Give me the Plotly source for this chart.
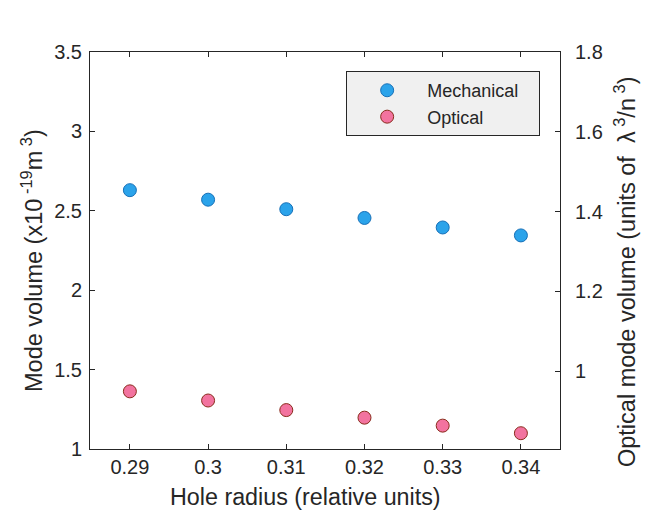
import plotly.graph_objects as go

hole_radius = [0.29, 0.30, 0.31, 0.32, 0.33, 0.34]
mechanical = [2.63, 2.57, 2.51, 2.455, 2.395, 2.345]
optical = [0.949, 0.926, 0.902, 0.883, 0.863, 0.844]

x_ticks = [0.29, 0.30, 0.31, 0.32, 0.33, 0.34]
x_tick_labels = ["0.29", "0.3", "0.31", "0.32", "0.33", "0.34"]
left_ticks = [1, 1.5, 2, 2.5, 3, 3.5]
left_tick_labels = ["1", "1.5", "2", "2.5", "3", "3.5"]
right_ticks = [1, 1.2, 1.4, 1.6, 1.8]
right_tick_labels = ["1", "1.2", "1.4", "1.6", "1.8"]

x_title = "Hole radius (relative units)"
y_title = "Mode volume (x10<sup> -19</sup>m<sup> 3</sup>)"
y2_title = "Optical mode volume (units of  \u03bb<sup> 3</sup>/n<sup> 3</sup>)"

FONT = "Liberation Sans, Arial, Helvetica, sans-serif"
AX = "#262626"
NB = "\u00a0"

fig = go.Figure()
fig.add_trace(go.Scatter(
    x=hole_radius, y=mechanical, mode="markers", name="Mechanical" + NB * 3,
    marker=dict(size=13, color="#2ba3ea", line=dict(color="#1670b8", width=1)),
    yaxis="y"))
fig.add_trace(go.Scatter(
    x=hole_radius, y=optical, mode="markers", name="Optical",
    marker=dict(size=13, color="#f2739f", line=dict(color="#8a2c1c", width=1)),
    yaxis="y2"))

fig.update_layout(
    width=650, height=532,
    margin=dict(l=90, r=90, t=52, b=83),
    paper_bgcolor="white", plot_bgcolor="white",
    font=dict(family=FONT, size=20, color="#262626"),
    showlegend=True,
    legend=dict(x=0.545, y=0.952, xanchor="left", yanchor="top",
                bgcolor="#f0f0f0", bordercolor="#262626", borderwidth=1,
                font=dict(size=18, color="#262626"),
                itemwidth=70, tracegroupgap=0),
    xaxis=dict(range=[0.2849, 0.345], tickvals=x_ticks, ticktext=x_tick_labels,
               ticks="inside", ticklen=5, tickcolor=AX, showline=True,
               linecolor=AX, linewidth=1, mirror="ticks", showgrid=False,
               zeroline=False, tickfont=dict(size=20)),
    yaxis=dict(range=[1, 3.5], tickvals=left_ticks, ticktext=left_tick_labels,
               ticks="inside", ticklen=5, tickcolor=AX, showline=True,
               linecolor=AX, linewidth=1, showgrid=False, zeroline=False,
               tickfont=dict(size=20), ticklabelstandoff=3),
    yaxis2=dict(range=[0.8044, 1.8], tickvals=right_ticks, ticktext=right_tick_labels,
                overlaying="y", side="right",
                ticks="inside", ticklen=5, tickcolor=AX, showline=True,
                linecolor=AX, linewidth=1, showgrid=False, zeroline=False,
                tickfont=dict(size=20), ticklabelstandoff=10),
    annotations=[
        dict(text=x_title, xref="paper", yref="paper", x=0.4585, y=-0.1209,
             xanchor="center", yanchor="middle", showarrow=False,
             font=dict(size=23.3, color="#262626")),
        dict(text=y_title, xref="paper", yref="paper", x=-0.1245, y=0.4748,
             xanchor="center", yanchor="middle", showarrow=False, textangle=-90,
             font=dict(size=23.5, color="#262626")),
        dict(text=y2_title, xref="paper", yref="paper", x=1.1383, y=0.4458,
             xanchor="center", yanchor="middle", showarrow=False, textangle=-90,
             font=dict(size=23.5, color="#262626")),
    ],
)

fig.write_html("out.html")
